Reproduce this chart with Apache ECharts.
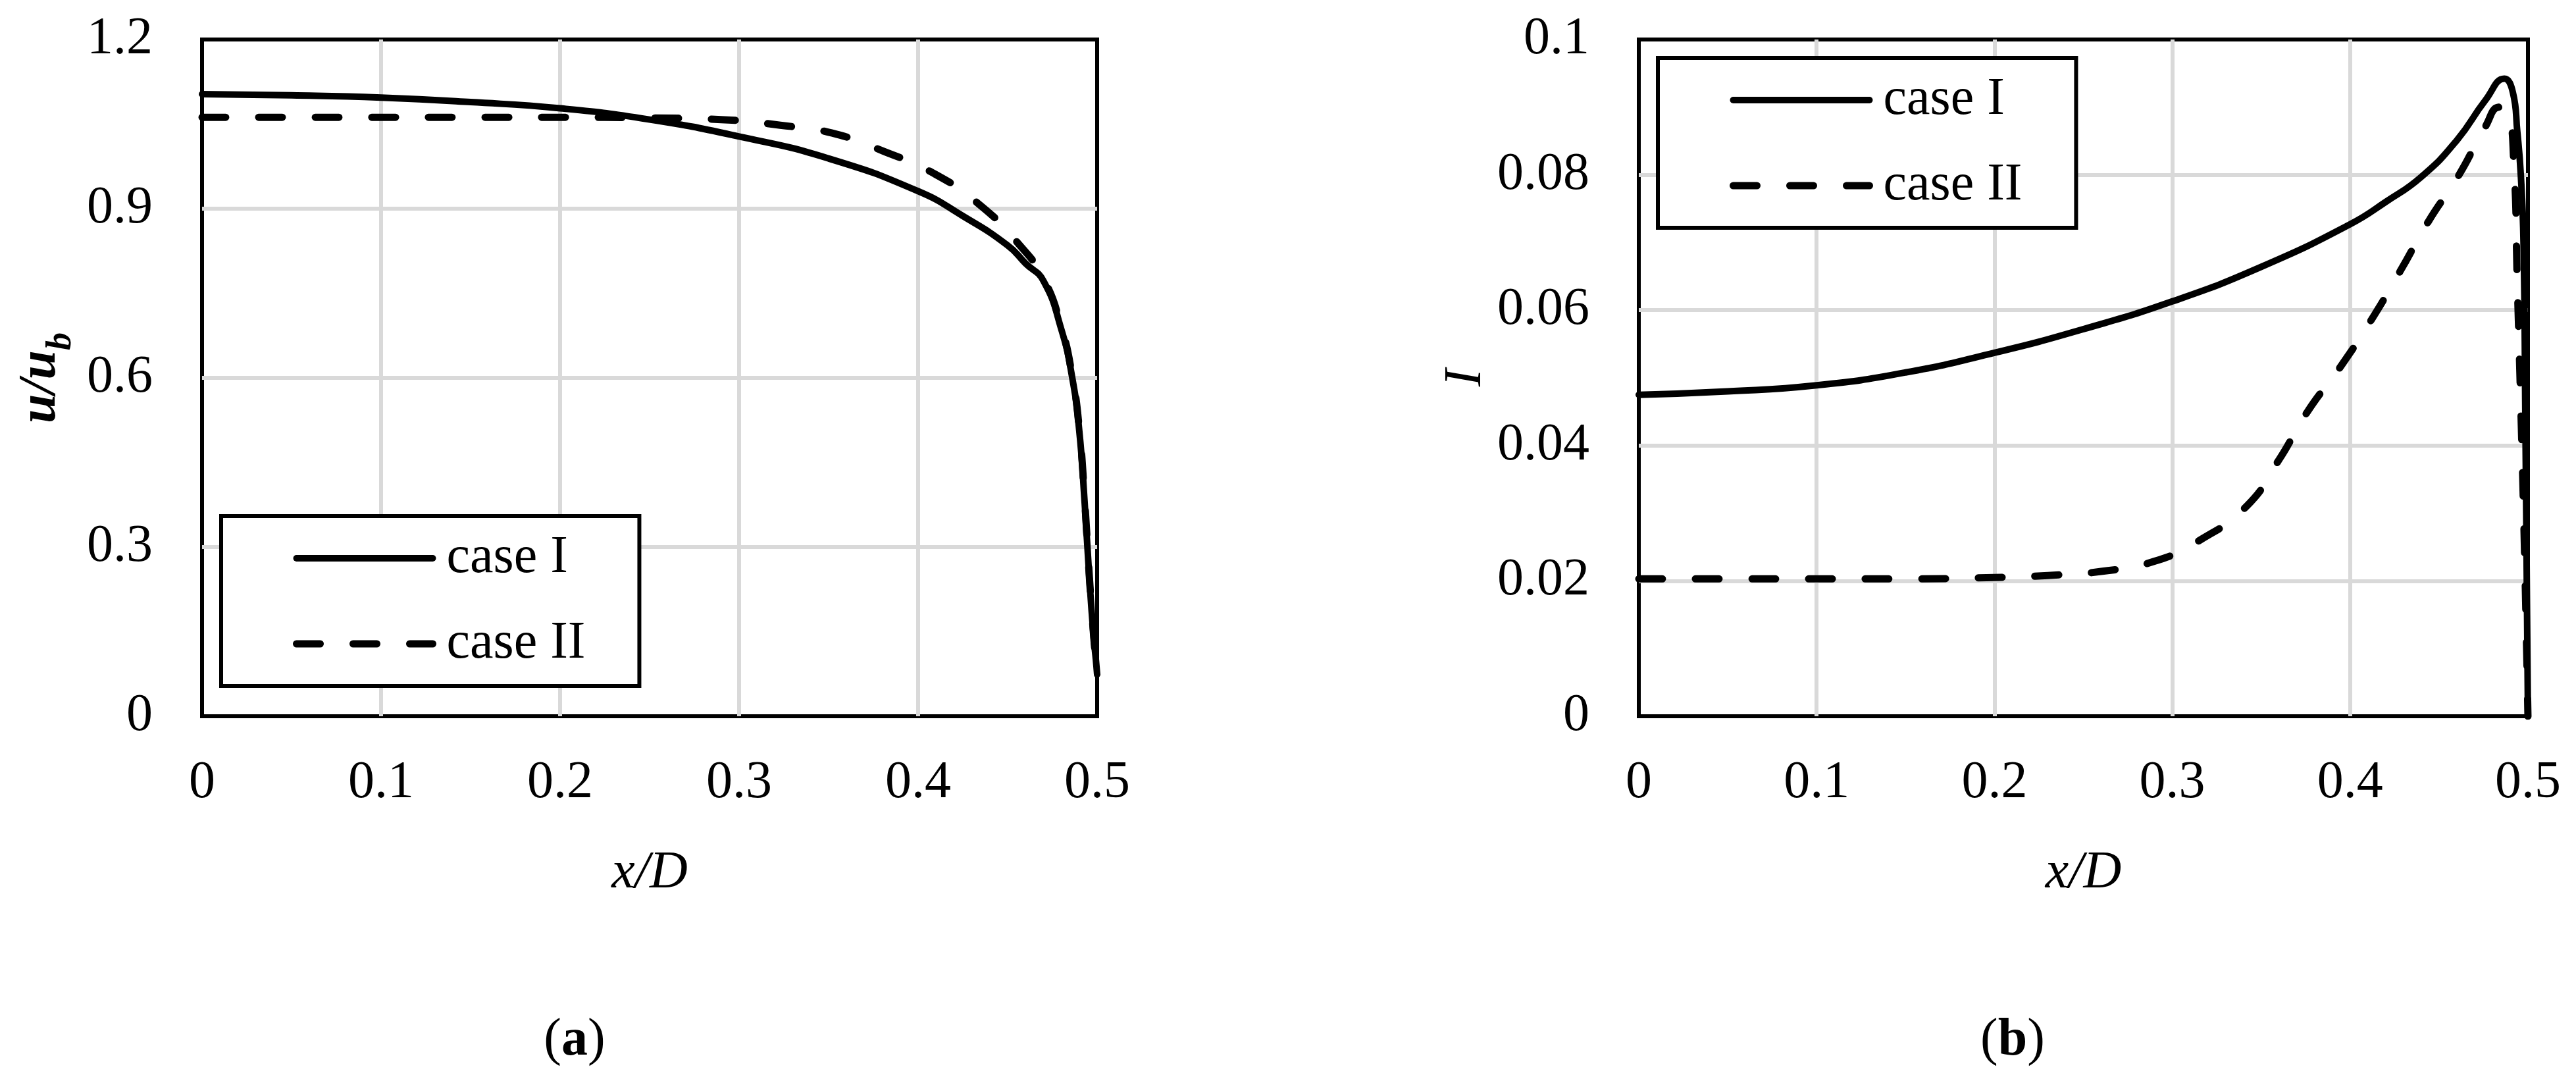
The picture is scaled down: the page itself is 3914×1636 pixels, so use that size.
<!DOCTYPE html>
<html>
<head>
<meta charset="utf-8">
<script src="https://cdn.jsdelivr.net/npm/echarts@6/dist/echarts.min.js"></script>
<style>
html, body { margin: 0; padding: 0; background: #fff; }
#main { width: 3914px; height: 1636px; }
</style>
</head>
<body>
<div id="main"></div>
<script>
// (a) velocity profile u/u_b vs x/D
var xA1 = [0, 0.05, 0.1, 0.15, 0.2, 0.25, 0.3, 0.35, 0.4, 0.425, 0.45, 0.46, 0.47, 0.48, 0.486, 0.49, 0.493, 0.4956, 0.498, 0.4993, 0.5];
var yA1 = [1.103, 1.101, 1.097, 1.089, 1.078, 1.058, 1.028, 0.989, 0.931, 0.887, 0.835, 0.803, 0.772, 0.686, 0.602, 0.507, 0.380, 0.247, 0.142, 0.100, 0.074];
var xA2 = [0, 0.05, 0.1, 0.15, 0.2, 0.25, 0.29, 0.323, 0.352, 0.381, 0.4085, 0.434, 0.456, 0.47, 0.48, 0.486, 0.49, 0.493, 0.4956, 0.498, 0.5];
var yA2 = [1.062, 1.062, 1.062, 1.062, 1.062, 1.061, 1.058, 1.048, 1.034, 1.0015, 0.963, 0.908, 0.838, 0.776, 0.690, 0.605, 0.510, 0.385, 0.250, 0.145, 0.070];

// (b) turbulence intensity I vs x/D
var xB1 = [0, 0.05, 0.1, 0.15, 0.2, 0.25, 0.3, 0.35, 0.4, 0.42, 0.44, 0.46, 0.476, 0.4867, 0.4915, 0.494, 0.496, 0.4975, 0.4985, 0.4995, 0.5];
var yB1 = [0.0475, 0.0480, 0.0489, 0.0508, 0.0537, 0.0572, 0.0613, 0.0664, 0.0727, 0.0760, 0.0797, 0.0851, 0.0910, 0.0942, 0.0922, 0.0864, 0.0799, 0.0700, 0.0450, 0.0150, 0];
var xB2 = [0, 0.05, 0.1, 0.15, 0.2, 0.23, 0.26, 0.29, 0.316, 0.342, 0.36, 0.376, 0.395, 0.412, 0.428, 0.444, 0.461, 0.476, 0.484, 0.4885, 0.492, 0.494, 0.496, 0.498, 0.5];
var yB2 = [0.0203, 0.0203, 0.0203, 0.0203, 0.0205, 0.0208, 0.0214, 0.0229, 0.0261, 0.0311, 0.0379, 0.0450, 0.0518, 0.0586, 0.0657, 0.0731, 0.0799, 0.0871, 0.0900, 0.0895, 0.0820, 0.0640, 0.0455, 0.0250, 0];

var caseNames = ['case I', 'case II'];
var FONT = 'Liberation Serif';

function pairs(xs, ys) {
	return xs.map(function (x, i) { return [x, ys[i]]; });
}

var solidStyle = { color: '#000', width: 10, cap: 'round', join: 'round' };
var dashStyle = { color: '#000', width: 11, type: [36, 50], cap: 'round', join: 'round' };

function xAxisOf(idx) {
	return {
		gridIndex: idx, type: 'value', min: 0, max: 0.5, interval: 0.1,
		name: 'x/D', nameLocation: 'middle', nameGap: 199,
		nameTextStyle: { fontFamily: FONT, fontSize: 80, fontStyle: 'italic', color: '#000' },
		axisLine: { show: false }, axisTick: { show: false },
		axisLabel: { fontFamily: FONT, fontSize: 80, color: '#000', margin: 62 },
		splitLine: { show: true, showMinLine: false, showMaxLine: false, lineStyle: { color: '#d9d9d9', width: 6 } }
	};
}

function legendOf(left, top) {
	return {
		data: caseNames, orient: 'vertical', left: left, top: top,
		padding: [24, 82, 24, 109], itemWidth: 207, itemHeight: 20, itemGap: 50,
		backgroundColor: '#fff', borderColor: '#000', borderWidth: 6, borderRadius: 0,
		itemStyle: { opacity: 0 },
		lineStyle: { width: 'inherit', type: 'inherit', cap: 'round', color: '#000' },
		textStyle: { fontFamily: FONT, fontSize: 80, color: '#000', padding: [0, 0, 0, 16] },
		selectedMode: false
	};
}

var myChart = echarts.init(document.getElementById('main'));
myChart.setOption({
	animation: false,
	backgroundColor: '#fff',
	grid: [
		{ left: 307, top: 60, width: 1360, height: 1028, show: true, borderColor: '#000', borderWidth: 6, backgroundColor: 'transparent' },
		{ left: 2490, top: 60, width: 1351, height: 1028, show: true, borderColor: '#000', borderWidth: 6, backgroundColor: 'transparent' }
	],
	xAxis: [xAxisOf(0), xAxisOf(1)],
	yAxis: [
		{
			gridIndex: 0, type: 'value', min: 0, max: 1.2, interval: 0.3,
			name: '{i|u/u}{s|b}', nameLocation: 'middle', nameGap: 187,
			nameTextStyle: {
				color: '#000', fontFamily: FONT, fontSize: 80, fontStyle: 'italic', fontWeight: 'bold',
				rich: {
					i: { fontFamily: FONT, fontSize: 80, fontStyle: 'italic', fontWeight: 'bold', color: '#000', padding: [0, 0, 18, 0] },
					s: { fontFamily: FONT, fontSize: 54, fontStyle: 'italic', fontWeight: 'bold', color: '#000', verticalAlign: 'bottom' }
				}
			},
			axisLine: { show: false }, axisTick: { show: false },
			axisLabel: { fontFamily: FONT, fontSize: 80, color: '#000', margin: 75 },
			splitLine: { show: true, showMinLine: false, showMaxLine: false, lineStyle: { color: '#d9d9d9', width: 6 } }
		},
		{
			gridIndex: 1, type: 'value', min: 0, max: 0.1, interval: 0.02,
			name: 'I', nameLocation: 'middle', nameGap: 222,
			nameTextStyle: { fontFamily: FONT, fontSize: 80, fontStyle: 'italic', color: '#000' },
			axisLine: { show: false }, axisTick: { show: false },
			axisLabel: { fontFamily: FONT, fontSize: 80, color: '#000', margin: 75 },
			splitLine: { show: true, showMinLine: false, showMaxLine: false, lineStyle: { color: '#d9d9d9', width: 6 } }
		}
	],
	legend: [legendOf(336, 784), legendOf(2519, 88)],
	series: [
		{ type: 'line', name: caseNames[0], xAxisIndex: 0, yAxisIndex: 0, data: pairs(xA1, yA1), symbol: 'none', smooth: 0.5, lineStyle: solidStyle, itemStyle: { color: '#000' }, z: 3 },
		{ type: 'line', name: caseNames[1], xAxisIndex: 0, yAxisIndex: 0, data: pairs(xA2, yA2), symbol: 'none', smooth: 0.5, lineStyle: dashStyle, itemStyle: { color: '#000' }, z: 3 },
		{ type: 'line', name: caseNames[0], xAxisIndex: 1, yAxisIndex: 1, data: pairs(xB1, yB1), symbol: 'none', smooth: 0.5, lineStyle: solidStyle, itemStyle: { color: '#000' }, z: 3 },
		{ type: 'line', name: caseNames[1], xAxisIndex: 1, yAxisIndex: 1, data: pairs(xB2, yB2), symbol: 'none', smooth: 0.5, lineStyle: dashStyle, itemStyle: { color: '#000' }, z: 3 }
	],
	graphic: [
		{ type: 'text', x: 873, y: 1581, style: { text: '({b|a})', align: 'center', verticalAlign: 'middle', fontFamily: FONT, fontSize: 80, fill: '#000', rich: { b: { fontFamily: FONT, fontSize: 80, fontWeight: 'bold', fill: '#000' } } } },
		{ type: 'text', x: 3058, y: 1581, style: { text: '({b|b})', align: 'center', verticalAlign: 'middle', fontFamily: FONT, fontSize: 80, fill: '#000', rich: { b: { fontFamily: FONT, fontSize: 80, fontWeight: 'bold', fill: '#000' } } } }
	]
});
</script>
</body>
</html>
